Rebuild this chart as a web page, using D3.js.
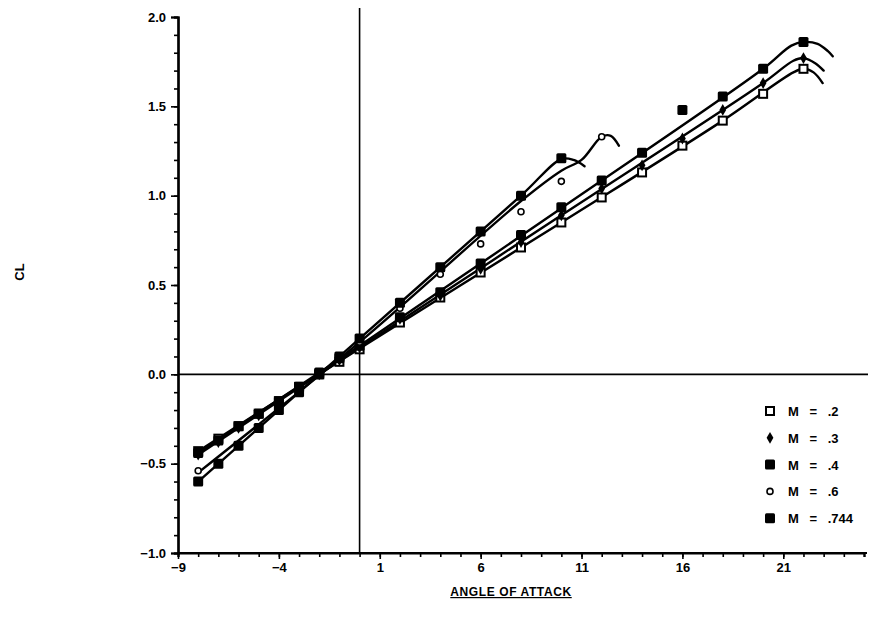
<!DOCTYPE html>
<html>
<head>
<meta charset="utf-8">
<script src="https://cdn.jsdelivr.net/npm/d3@7"></script>
<style>
  body { margin: 0; background: #fff; }
  svg { display: block; }
  text { font-family: "Liberation Sans", "DejaVu Sans", sans-serif; font-weight: bold; fill: #000; }
</style>
</head>
<body>
<svg id="chart" width="886" height="630"></svg>
<script>
// Lift coefficient vs. angle of attack, one series per Mach number.

// Measured points
const alphaLow  = [-8,-7,-6,-5,-4,-3,-2,-1,0,2,4,6,8,10,12,14,16,18,20,22];
const clM2      = [-0.43,-0.36,-0.29,-0.22,-0.15,-0.07,0.0,0.07,0.14,0.29,0.43,0.57,0.71,0.85,0.99,1.13,1.28,1.42,1.57,1.71];
const clM3      = [-0.45,-0.38,-0.30,-0.23,-0.16,-0.08,0.0,0.08,0.15,0.31,0.44,0.59,0.74,0.89,1.04,1.17,1.32,1.48,1.63,1.77];
const clM4      = [-0.44,-0.37,-0.29,-0.22,-0.15,-0.07,0.01,0.09,0.16,0.32,0.46,0.62,0.78,0.935,1.085,1.24,1.48,1.555,1.71,1.86];
const alphaM6   = [-8,-4,0,2,4,6,8,10,12];
const clM6      = [-0.54,-0.19,0.18,0.37,0.56,0.73,0.91,1.08,1.33];
const alphaM744 = [-8,-7,-6,-5,-4,-3,-2,-1,0,2,4,6,8,10];
const clM744    = [-0.60,-0.50,-0.40,-0.30,-0.20,-0.10,0.0,0.10,0.20,0.40,0.60,0.80,1.00,1.21];

// Faired curves (alpha, CL) for each Mach number
const fitM2   = [[-8,-0.43],[0,0.145],[10,0.85],[18,1.42],[21.5,1.69],[22,1.71],[22.5,1.69],[22.95,1.63]];
const fitM3   = [[-8,-0.45],[0,0.15],[10,0.89],[20,1.63],[21.5,1.755],[22,1.77],[22.6,1.74],[23.0,1.70]];
const fitM4   = [[-8,-0.44],[0,0.16],[10,0.93],[20,1.71],[21.4,1.84],[22,1.86],[22.7,1.85],[23.2,1.81],[23.45,1.78]];
const fitM6   = [[-8,-0.55],[0,0.18],[8,0.97],[10,1.14],[11,1.2],[12,1.33],[12.45,1.335],[12.85,1.28]];
const fitM744 = [[-8,-0.60],[0,0.20],[8,1.0],[10,1.205],[10.6,1.2],[11.15,1.165]];

// Axis ticks
const xMajorTicks = [-9,-4,1,6,11,16,21];
const yMajorTicks = [-1,-0.5,0,0.5,1,1.5,2];

const legendLabels = ["M = .2","M = .3","M = .4","M = .6","M = .744"];

const series = [
  { label: legendLabels[0], alpha: alphaLow,  cl: clM2,   fit: fitM2,   marker: "openSquare" },
  { label: legendLabels[1], alpha: alphaLow,  cl: clM3,   fit: fitM3,   marker: "smallDot" },
  { label: legendLabels[2], alpha: alphaLow,  cl: clM4,   fit: fitM4,   marker: "filledSquare" },
  { label: legendLabels[3], alpha: alphaM6,   cl: clM6,   fit: fitM6,   marker: "openDiamond" },
  { label: legendLabels[4], alpha: alphaM744, cl: clM744, fit: fitM744, marker: "filledSquare" }
];

const svg = d3.select("#chart");
const x = d3.scaleLinear().domain([-9, 25]).range([178, 864]);
const y = d3.scaleLinear().domain([-1, 2]).range([553, 17]);

// Reference lines through the origin
svg.append("line")
  .attr("x1", x(0)).attr("x2", x(0))
  .attr("y1", 8).attr("y2", y(-1))
  .attr("stroke", "#000").attr("stroke-width", 1.6);
svg.append("line")
  .attr("x1", x(-9)).attr("x2", 868)
  .attr("y1", y(0)).attr("y2", y(0))
  .attr("stroke", "#000").attr("stroke-width", 1.8);

// Y axis: minor ticks every 0.1, labelled ticks every 0.5
const yMinor = svg.append("g").attr("transform", `translate(${x(-9)},0)`)
  .call(d3.axisLeft(y).tickValues(d3.range(-10, 21).map(d => d / 10)).tickSize(4).tickFormat(""));
const yAxis = svg.append("g").attr("transform", `translate(${x(-9)},0)`)
  .call(d3.axisLeft(y).tickValues(yMajorTicks).tickSize(7).tickPadding(5).tickFormat(d3.format(".1f")));

// X axis: minor ticks every degree, labelled ticks every 5
const xMinor = svg.append("g").attr("transform", `translate(0,${y(-1)})`)
  .call(d3.axisBottom(x).tickValues(d3.range(-9, 26)).tickSize(4).tickFormat(""));
const xAxis = svg.append("g").attr("transform", `translate(0,${y(-1)})`)
  .call(d3.axisBottom(x).tickValues(xMajorTicks).tickSize(6).tickPadding(4).tickFormat(d3.format("d")));

[yMinor, yAxis, xMinor, xAxis].forEach(g => {
  g.select(".domain").attr("stroke", "#000").attr("stroke-width", 2.2);
  g.selectAll(".tick line").attr("stroke", "#000").attr("stroke-width", 1.6);
});
[yAxis, xAxis].forEach(g => g.selectAll(".tick text").attr("font-size", 13).attr("fill", "#000"));
xAxis.select(".domain").attr("d", `M${x(-9)},0H867`);

// Axis titles
svg.append("text")
  .attr("x", 511).attr("y", 596)
  .attr("text-anchor", "middle")
  .attr("font-size", 12)
  .attr("letter-spacing", 0.6)
  .attr("text-decoration", "underline")
  .text("ANGLE OF ATTACK");

svg.append("text")
  .attr("transform", "translate(24,272) rotate(-90)")
  .attr("text-anchor", "middle")
  .attr("font-size", 13)
  .text("CL");

// Faired curves
const line = d3.line().x(d => x(d[0])).y(d => y(d[1])).curve(d3.curveCatmullRom.alpha(0.5));
svg.append("g").selectAll("path").data(series).join("path")
  .attr("d", d => line(d.fit))
  .attr("fill", "none")
  .attr("stroke", "#000")
  .attr("stroke-width", 2.4)
  .attr("stroke-linejoin", "round")
  .attr("stroke-linecap", "round");

// Marker drawing
function drawMarker(g, type, cx, cy) {
  if (type === "openSquare") {
    g.append("rect").attr("x", cx - 4).attr("y", cy - 4).attr("width", 8).attr("height", 8)
      .attr("fill", "#fff").attr("stroke", "#000").attr("stroke-width", 2);
  } else if (type === "filledSquare") {
    g.append("rect").attr("x", cx - 5).attr("y", cy - 5).attr("width", 10).attr("height", 10)
      .attr("rx", 1.5).attr("fill", "#000");
  } else if (type === "smallDot") {
    g.append("path").attr("d", d3.symbol(d3.symbolDiamond, 40)()).attr("transform", `translate(${cx},${cy})`)
      .attr("fill", "#000");
  } else if (type === "openDiamond") {
    g.append("circle").attr("cx", cx).attr("cy", cy).attr("r", 3)
      .attr("fill", "#fff").attr("stroke", "#000").attr("stroke-width", 1.6);
  }
}

const pts = svg.append("g");
series.forEach(s => {
  s.alpha.forEach((a, i) => drawMarker(pts, s.marker, x(a), y(s.cl[i])));
});

// Legend
const legend = svg.append("g");
series.forEach((s, i) => {
  const ly = 411 + i * 26.8;
  drawMarker(legend, s.marker, 770, ly);
  legend.append("text").attr("x", 788).attr("y", ly + 5)
    .attr("font-size", 13).attr("word-spacing", 7).text(s.label);
});
</script>
</body>
</html>
